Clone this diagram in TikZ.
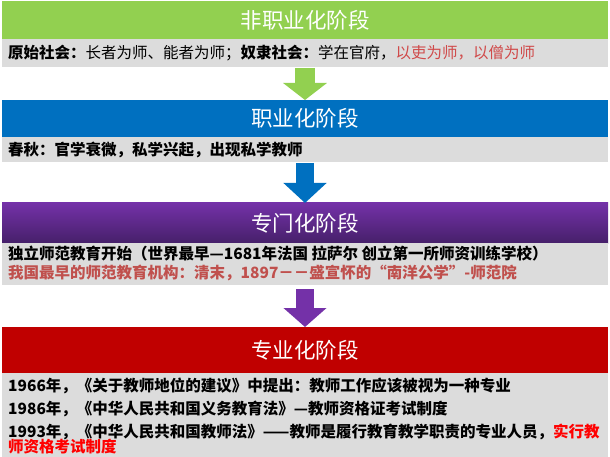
\documentclass[tikz,border=0pt]{standalone}
\usepackage{fontspec}
\setmainfont{Noto Sans CJK SC}
\usetikzlibrary{arrows.meta}
\definecolor{cgreen}{HTML}{92D050}
\definecolor{cblue}{HTML}{0070C0}
\definecolor{cpurple}{HTML}{7431A8}
\definecolor{cpurpledark}{HTML}{46206A}
\definecolor{cred}{HTML}{C00000}
\definecolor{cgrey}{HTML}{DCDCDC}
\definecolor{softred}{HTML}{D04A4A}
\definecolor{brownred}{HTML}{C0504D}
\definecolor{brightred}{HTML}{FF0000}
\begin{document}
\begin{tikzpicture}[x=1pt,y=-1pt,
  bar/.style={rectangle, inner sep=0pt, outer sep=0pt, minimum width=606pt, anchor=north west},
  titlebar/.style={bar, text=white, font=\fontsize{21.5}{21.5}\selectfont},
  greybar/.style={bar, fill=cgrey},
  bodyline/.style={anchor=west, inner sep=0pt, font=\fontsize{15.5}{15.5}\selectfont},
  blockarrow/.style={line width=#1}]
\useasboundingbox[fill=white] (0,0) rectangle (610,457);

% stage 1
\node[titlebar, fill=cgreen, minimum height=38pt] (t1) at (2,1) {非职业化阶段};
\node[greybar, minimum height=28pt] (g1) at (2,39) {};
\node[bodyline] (l1) at (8,53) {\textbf{原始社会：}长者为师、能者为师；\textbf{奴隶社会：}学在官府，\textcolor{softred}{以吏为师，以僧为师}};

% stage 2
\node[titlebar, fill=cblue, minimum height=37pt] (t2) at (2,100) {职业化阶段};
\node[greybar, minimum height=25pt] (g2) at (2,137) {};
\node[bodyline] (l2) at (8,149.5) {\textbf{春秋：官学衰微，私学兴起，出现私学教师}};

% stage 3
\node[titlebar, top color=cpurple, bottom color=cpurpledark, minimum height=40pt] (t3) at (2,203) {专门化阶段};
\node[greybar, minimum height=42pt] (g3) at (2,243) {};
\node[bodyline] (l3a) at (8,254) {\textbf{独立师范教育开始（世界最早—1681年法国 拉萨尔 创立第一所师资训练学校）}};
\node[bodyline, text=brownred] (l3b) at (8,273) {\textbf{我国最早的师范教育机构：清末，1897－－盛宣怀的“南洋公学”-师范院}};

% stage 4
\node[titlebar, fill=cred, minimum height=46pt] (t4) at (2,327) {专业化阶段};
\node[greybar, minimum height=84pt] (g4) at (2,373) {};
\node[bodyline] (l4a) at (8,386) {\textbf{1966年，《关于教师地位的建议》中提出：教师工作应该被视为一种专业}};
\node[bodyline] (l4b) at (8,409) {\textbf{1986年，《中华人民共和国义务教育法》—教师资格证考试制度}};
\node[bodyline] (l4c) at (8,432) {\textbf{1993年，《中华人民共和国教师法》——教师是履行教育教学职责的专业人员，\textcolor{brightred}{实行教}}};
\node[bodyline, text=brightred] (l4d) at (8,447) {\textbf{师资格考试制度}};

% arrows
\draw[blockarrow=20pt, cgreen, -{Triangle[width=43pt,length=17pt]}] ([yshift=-1pt]g1.south) -- (t2.north);
\draw[blockarrow=18pt, cblue, -{Triangle[width=42pt,length=20pt]}] ([yshift=-1pt]g2.south) -- (t3.north);
\draw[blockarrow=18pt, cpurple, -{Triangle[width=42pt,length=19pt]}] ([yshift=-4pt]g3.south) -- (t4.north);
\end{tikzpicture}
\end{document}
